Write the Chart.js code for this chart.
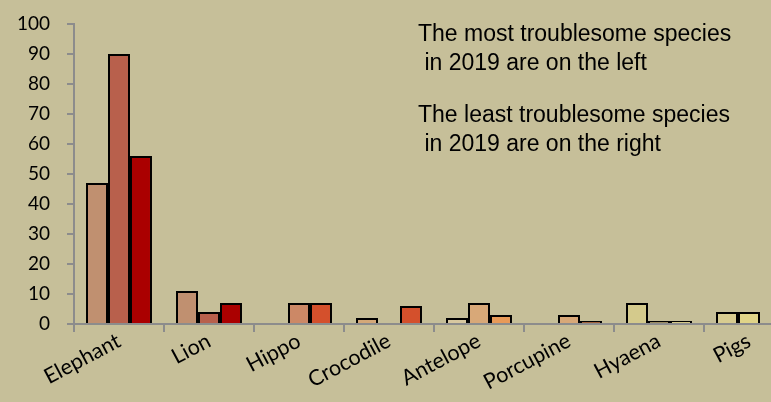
<!DOCTYPE html>
<html>
<head>
<meta charset="utf-8">
<script src="https://cdn.jsdelivr.net/npm/chart.js@4"></script>
<style>
html,body{margin:0;padding:0;background:#C6BF99;overflow:hidden;width:771px;height:402px;}
#wrap{position:absolute;left:0;top:0;width:800px;height:402px;}
</style>
</head>
<body>
<div id="wrap"><canvas id="c" width="800" height="402"></canvas></div>
<script>
const categories = ["Elephant","Lion","Hippo","Crocodile","Antelope","Porcupine","Hyaena","Pigs"];
const series1 = [47, 11, null, 2, 2, null, 7, 4];
const series2 = [90, 4, 7, null, 7, 3, 1, 4];
const series3 = [56, 7, 7, 6, 3, 1, 1, null];
const colors1 = ["#C09070","#C09070","#C09070","#D4A878","#D8C8A0","#D8A878","#D4CA8C","#D8CC90"];
const colors2 = ["#B8604C","#B8604C","#CC8866","#CC8866","#D8A878","#D8A878","#9A8A60","#E0D488"];
const colors3 = ["#AA0000","#AA0000","#D4502C","#D4502C","#E89A58","#A0603A","#D4C888","#E0D488"];
const noteLines = ["The most troublesome species"," in 2019 are on the left","The least troublesome species"," in 2019 are on the right"];

const notePlugin = {
  id:'notes',
  afterDraw(chart){
    const ctx = chart.ctx;
    ctx.save();
    ctx.fillStyle = '#000';
    ctx.font = '23px "Liberation Sans", Arial, sans-serif';
    ctx.textBaseline = 'alphabetic';
    const ys = [41, 70, 122, 151];
    noteLines.forEach((t,i)=>{ ctx.fillText(t, 418, ys[i]); });
    ctx.restore();
  }
};

new Chart(document.getElementById('c'), {
  type:'bar',
  data:{
    labels:categories,
    datasets:[
      {label:'2017', data:series1, backgroundColor:colors1, borderColor:'#000', borderWidth:2, borderSkipped:'bottom'},
      {label:'2018', data:series2, backgroundColor:colors2, borderColor:'#000', borderWidth:2, borderSkipped:'bottom'},
      {label:'2019', data:series3, backgroundColor:colors3, borderColor:'#000', borderWidth:2, borderSkipped:'bottom'}
    ]
  },
  options:{
    responsive:false,
    animation:false,
    layout:{padding:{top:24,right:6,left:0,bottom:0}},
    plugins:{legend:{display:false}, tooltip:{enabled:false}},
    datasets:{bar:{categoryPercentage:0.733, barPercentage:1}},
    scales:{
      x:{
        grid:{display:true, drawOnChartArea:false, offset:true, color:'#8C8C8C', lineWidth:2, tickLength:8},
        border:{color:'#8C8C8C', width:2},
        ticks:{color:'#000', font:{family:'Lato, "Open Sans", sans-serif', size:21.5}, minRotation:28, maxRotation:28, padding:-4},
        afterFit(s){ s.height = 78; }
      },
      y:{
        min:0, max:100,
        grid:{display:true, drawOnChartArea:false, color:'#8C8C8C', lineWidth:2, tickLength:7},
        border:{color:'#8C8C8C', width:2},
        ticks:{stepSize:10, color:'#000', font:{family:'Lato, "Open Sans", sans-serif', size:19}, padding:17},
        afterFit(s){ s.width = 74; s.paddingTop = 0; }
      }
    }
  },
  plugins:[notePlugin]
});
</script>
</body>
</html>
